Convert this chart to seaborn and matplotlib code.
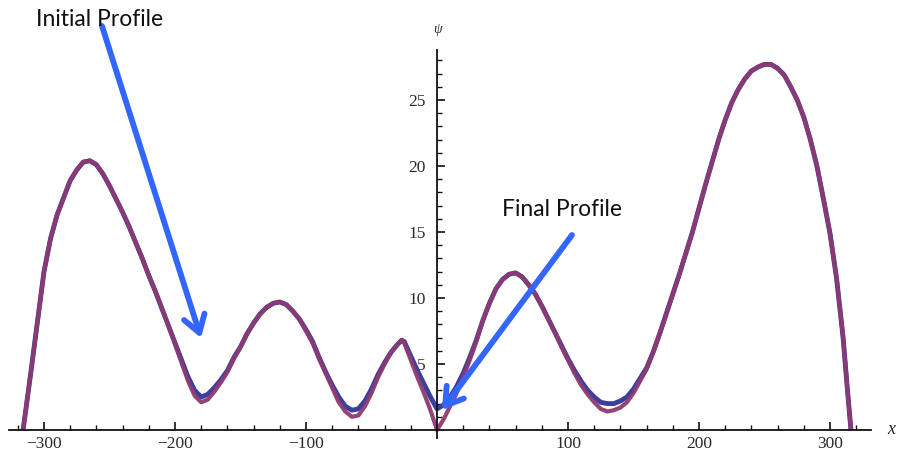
import matplotlib
matplotlib.use("Agg")
import matplotlib.pyplot as plt
from matplotlib.ticker import FixedLocator
import pandas as pd
import seaborn as sns

# ---- data ----
x_vals = [-316, -315, -310, -305, -300, -295, -290, -285, -280, -275, -270, -265,
          -260, -255, -250, -245, -240, -235, -230, -225, -220, -215, -210, -205,
          -200, -195, -190, -185, -180, -175, -170, -165, -160, -155, -150, -145,
          -140, -135, -130, -125, -120, -115, -110, -105, -100, -95, -90, -85,
          -80, -75, -70, -65, -60, -55, -50, -45, -40, -35, -30, -27, -25, -20,
          -15, -10, -5, 0, 5, 10, 15, 20, 25, 30, 35, 40, 45, 50, 55, 60, 65, 70,
          75, 80, 85, 90, 95, 100, 105, 110, 115, 120, 125, 130, 135, 140, 145,
          150, 155, 160, 165, 170, 175, 180, 185, 190, 195, 200, 205, 210, 215,
          220, 225, 230, 235, 240, 245, 250, 255, 260, 265, 270, 275, 280, 285,
          290, 295, 300, 305, 310, 313, 316]

final_profile = [0.0, 0.7, 4.4, 8.2, 12.0, 14.5, 16.3, 17.6, 18.9, 19.7, 20.3, 20.4,
                 20.1, 19.4, 18.5, 17.5, 16.5, 15.4, 14.2, 13.0, 11.7, 10.5, 9.2, 7.9,
                 6.5, 5.1, 3.7, 2.6, 2.1, 2.3, 2.9, 3.6, 4.4, 5.4, 6.3, 7.3,
                 8.1, 8.8, 9.3, 9.6, 9.7, 9.5, 9.0, 8.4, 7.5, 6.6, 5.4, 4.3,
                 3.2, 2.1, 1.4, 1.0, 1.1, 1.8, 2.8, 4.0, 5.0, 5.9, 6.5, 6.8, 6.6, 5.3,
                 4.0, 2.8, 1.5, 0.0, 0.8, 1.8, 2.8, 4.0, 5.3, 6.7, 8.3, 9.6, 10.7, 11.4, 11.8, 11.9, 11.6, 11.0,
                 10.3, 9.4, 8.4, 7.4, 6.3, 5.3, 4.3, 3.4, 2.7, 2.1, 1.6, 1.4, 1.5, 1.7, 2.1,
                 2.8, 3.7, 4.6, 5.9, 7.3, 8.8, 10.3, 11.8, 13.4, 15.0, 16.8, 18.6, 20.3, 22.0,
                 23.5, 24.8, 25.8, 26.6, 27.2, 27.5, 27.7, 27.7, 27.4, 26.9, 26.0, 25.0, 23.7, 22.0,
                 20.0, 17.5, 14.9, 11.5, 7.0, 3.4, 0.0]

initial_profile = [0.0, 0.7, 4.4, 8.2, 12.0, 14.5, 16.3, 17.6, 18.9, 19.7, 20.3, 20.4,
                   20.1, 19.4, 18.5, 17.5, 16.5, 15.4, 14.2, 13.0, 11.7, 10.5, 9.2, 7.9,
                   6.6, 5.3, 4.0, 3.0, 2.5, 2.7, 3.2, 3.8, 4.5, 5.5, 6.3, 7.3,
                   8.1, 8.8, 9.3, 9.6, 9.7, 9.5, 9.0, 8.4, 7.6, 6.7, 5.5, 4.4,
                   3.4, 2.5, 1.8, 1.5, 1.6, 2.2, 3.1, 4.2, 5.1, 5.9, 6.5, 6.8, 6.7, 5.6,
                   4.5, 3.5, 2.5, 1.6, 1.9, 2.5, 3.3, 4.3, 5.5, 6.8, 8.3, 9.6, 10.7, 11.4, 11.8, 11.9, 11.6, 11.0,
                   10.3, 9.4, 8.4, 7.4, 6.4, 5.4, 4.5, 3.7, 3.0, 2.5, 2.1, 2.0, 2.0, 2.2, 2.5,
                   3.1, 3.9, 4.7, 5.9, 7.3, 8.8, 10.3, 11.8, 13.4, 15.0, 16.8, 18.6, 20.3, 22.0,
                   23.5, 24.8, 25.8, 26.6, 27.2, 27.5, 27.7, 27.7, 27.4, 26.9, 26.0, 25.0, 23.7, 22.0,
                   20.0, 17.5, 14.9, 11.5, 7.0, 3.4, 0.0]

x_major = [-300, -200, -100, 100, 200, 300]
x_major_labels = ["\u2212300", "\u2212200", "\u2212100", "100", "200", "300"]
x_minor = [-320, -280, -260, -240, -220, -180, -160, -140, -120, -80, -60, -40, -20,
           20, 40, 60, 80, 120, 140, 160, 180, 220, 240, 260, 280, 320]
y_major = [5, 10, 15, 20, 25]
y_major_labels = ["5", "10", "15", "20", "25"]
y_minor = [1, 2, 3, 4, 6, 7, 8, 9, 11, 12, 13, 14, 16, 17, 18, 19, 21, 22, 23, 24, 26, 27, 28]

# ---- figure ----
sns.set_style("white")
plt.rcParams["font.family"] = ["DejaVu Sans"]

W, H = 900, 454
fig = plt.figure(figsize=(W / 100, H / 100), dpi=100)

# pixel layout: x data 0 at px 437, 1.31 px/unit; y data 0 at px 430, 13.2 px/unit
xmin, xmax = -327, 331
ymin, ymax = -1.5, 28.8
px_per_x = 1.31
px_per_y = 13.2
left_px = 437 + xmin * px_per_x
width_px = (xmax - xmin) * px_per_x
bottom_px = 430 + (-ymin) * px_per_y          # from top
height_px = (ymax - ymin) * px_per_y
ax = fig.add_axes([left_px / W, (H - bottom_px) / H, width_px / W, height_px / H])

blue = "#3b3f9c"
purple = "#8e3a72"

df_init = pd.DataFrame({"x": x_vals, "psi": initial_profile})
df_final = pd.DataFrame({"x": x_vals, "psi": final_profile})
sns.lineplot(data=df_init, x="x", y="psi", ax=ax, color=blue, lw=3.5,
             sort=False, estimator=None, solid_capstyle="butt", solid_joinstyle="round")
sns.lineplot(data=df_final, x="x", y="psi", ax=ax, color=purple, lw=3.0, alpha=0.95,
             sort=False, estimator=None, solid_capstyle="butt", solid_joinstyle="round")

ax.set_xlim(xmin, xmax)
ax.set_ylim(ymin, ymax)
ax.set_xlabel("")
ax.set_ylabel("")

for s in ["top", "right"]:
    ax.spines[s].set_visible(False)
ax.spines["left"].set_position(("data", 0))
ax.spines["bottom"].set_position(("data", 0))
ax.spines["left"].set_bounds(-0.6, ymax)
for s in ["left", "bottom"]:
    ax.spines[s].set_color("#111111")
    ax.spines[s].set_linewidth(1.3)

ax.xaxis.set_major_locator(FixedLocator(x_major))
ax.set_xticklabels(x_major_labels)
ax.xaxis.set_minor_locator(FixedLocator(x_minor))
ax.yaxis.set_major_locator(FixedLocator(y_major))
ax.set_yticklabels(y_major_labels)
ax.yaxis.set_minor_locator(FixedLocator(y_minor))

for lab in ax.get_xticklabels() + ax.get_yticklabels():
    lab.set_fontfamily("Liberation Serif")
    lab.set_fontsize(12.5)
    lab.set_color("#2b2b2b")

ax.tick_params(axis="both", which="major", direction="in", length=5.5, width=1.2,
               color="#111111", bottom=True, left=True)
ax.tick_params(axis="both", which="minor", direction="in", length=3.5, width=1.0,
               color="#111111", bottom=True, left=True)
ax.tick_params(axis="x", which="major", pad=4)
ax.tick_params(axis="y", which="major", pad=8)
ax.set_ylim(ymin, ymax)

# axis labels
fig.text(437 / W, 1 - 30 / H, "\u03c8", family="Liberation Serif", style="italic",
         fontsize=10, ha="center", va="center", color="#2b2b2b")
fig.text(891 / W, 1 - 430 / H, "x", family="Liberation Serif", style="italic",
         fontsize=13, ha="center", va="center", color="#2b2b2b")

# annotations
arrow_col = "#3366ff"
def fp(x, y):
    return (x, H - y)

for tip, tail in [((201, 338), (102, 26)), ((442, 410), (572, 235))]:
    ax.annotate("", xy=fp(*tip), xycoords="figure pixels",
                xytext=fp(*tail), textcoords="figure pixels",
                arrowprops=dict(arrowstyle="->,head_length=0.55,head_width=0.35",
                                color=arrow_col, lw=4.2, capstyle="round",
                                joinstyle="round", mutation_scale=22,
                                shrinkA=0, shrinkB=0))

fig.text(36 / W, 1 - 19 / H, "Initial Profile", family="Lato", fontsize=16.5,
         ha="left", va="center", color="#111111")
fig.text(502 / W, 1 - 209 / H, "Final Profile", family="Lato", fontsize=16.5,
         ha="left", va="center", color="#111111")

fig.savefig("out.png", dpi=100)
